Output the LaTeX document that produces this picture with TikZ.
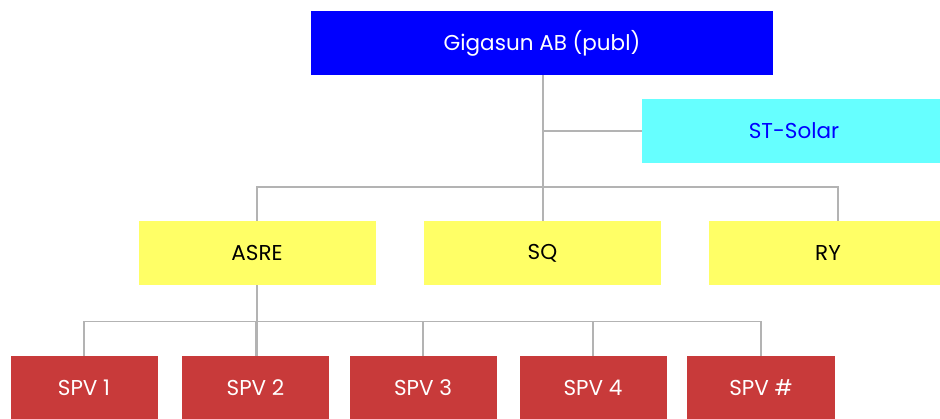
\documentclass[tikz,border=0pt]{standalone}
\usepackage{fontspec}
\setmainfont{Poppins}
\usepackage{tikz}
\usetikzlibrary{calc,positioning}
\definecolor{topblue}{HTML}{0000FF}
\definecolor{subcyan}{HTML}{66FFFF}
\definecolor{midyellow}{HTML}{FFFF66}
\definecolor{spvred}{HTML}{C83A3A}
\definecolor{linegray}{HTML}{B3B3B3}
\tikzset{
   box node/.style={rectangle,minimum height=64pt,inner sep=0pt,font=\fontsize{21.5}{24}\selectfont},
   parent node/.style={box node,fill=topblue,text=white,minimum width=462pt},
   side node/.style={box node,fill=subcyan,text=topblue,minimum width=304pt},
   mid node/.style={box node,fill=midyellow,text=black,minimum width=237pt},
   spv node/.style={box node,fill=spvred,text=white,minimum width=147pt},
   tree line/.style={draw=linegray,line width=1.1pt}
}

\begin{document}
\begin{tikzpicture}[x=1pt,y=-1pt]
\useasboundingbox (0,0) rectangle (940,418);
%\fill[white] (0,0) rectangle (940,418);

% top
\node[parent node] (gigasun) at (542,43) {Gigasun AB (publ)};
\node[side node] (stsolar) at (794,131) {ST-Solar};

% middle
\node[mid node] (asre) at (257,253) {ASRE};
\node[mid node] (sq) at (542.5,253) {SQ};
\node[mid node, minimum width=238pt] (ry) at (828,253) {RY};

% SPVs
\node[spv node] (spv1) at (84,388) {SPV 1};
\node[spv node] (spv2) at (255.5,388) {SPV 2};
\node[spv node] (spv3) at (423,388) {SPV 3};
\node[spv node] (spv4) at (593,388) {SPV 4};
\node[spv node, minimum width=148pt] (spvx) at (761,388) {SPV \#};

\coordinate (j1) at (543,131);
\coordinate (j2) at (543,187);
\coordinate (j3) at (257,321.5);

\draw[tree line] (gigasun.south -| j1) -- (sq.north -| j1);
\draw[tree line] (j1) -- (stsolar.west);
\draw[tree line] (asre.north) |- (j2) -| ([xshift=10pt]ry.north);
\draw[tree line] (asre.south) -- (asre.south |- spv2.north);
\draw[tree line] (spv1.north) |- (j3) -| (spvx.north);
\foreach \n in {spv2,spv3,spv4}
  \draw[tree line] (\n.north) -- (\n.north |- j3);

\end{tikzpicture}
\end{document}
